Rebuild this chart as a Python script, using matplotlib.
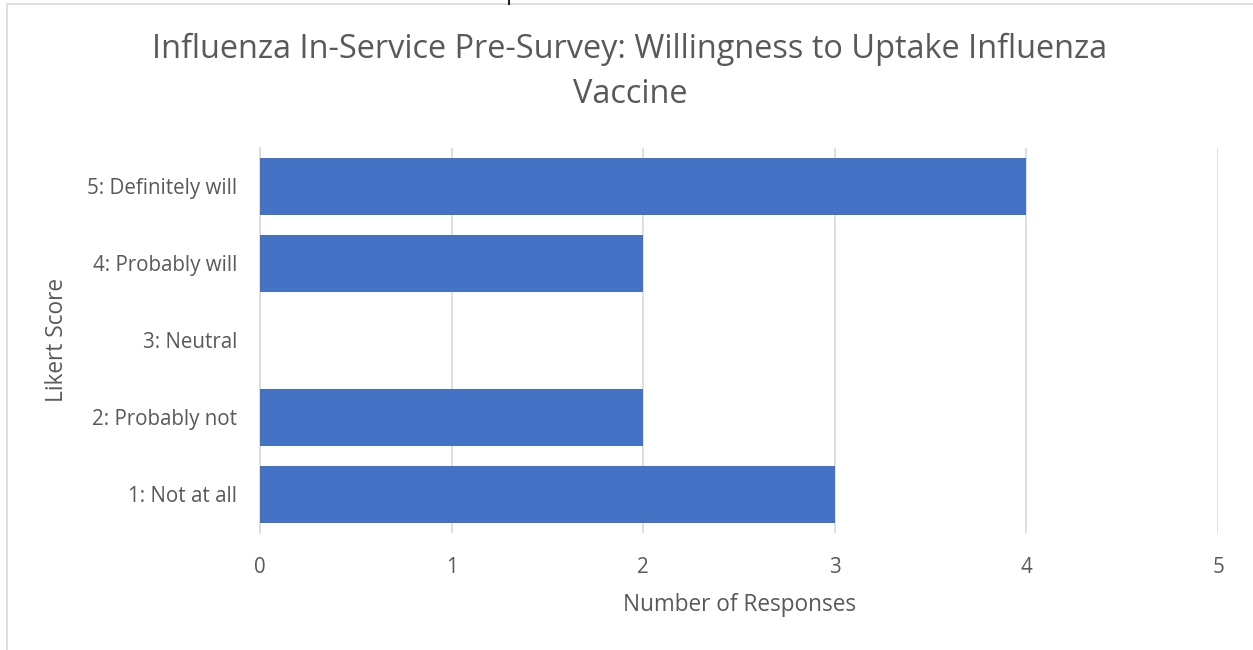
import numpy as np
import matplotlib.pyplot as plt
from matplotlib.patches import Rectangle
from matplotlib.lines import Line2D

# data
categories = ['1: Not at all', '2: Probably not', '3: Neutral', '4: Probably will', '5: Definitely will']
responses = [3, 2, 0, 2, 4]
x_ticks = [0, 1, 2, 3, 4, 5]

barColor = '#4472C4'
textGray = '#595959'
gridGray = '#D9D9D9'

plt.rcParams['font.family'] = ['Open Sans', 'DejaVu Sans']

W, H = 1253, 650
fig = plt.figure(figsize=(W/100, H/100), dpi=100)
ax = fig.add_axes([260/W, (H-533)/H, (1218-260)/W, (533-148)/H])

ypos = np.arange(len(categories))
ax.barh(ypos, responses, height=0.75, color=barColor, zorder=3)

ax.set_xlim(0, 5)
ax.set_ylim(-0.5, len(categories)-0.5)
ax.set_xticks(x_ticks)
ax.set_xticklabels([str(t) for t in x_ticks])
ax.set_yticks(ypos)
ax.set_yticklabels(categories)
ax.tick_params(axis='both', length=0, colors=textGray, labelsize=14.8)
ax.tick_params(axis='x', pad=17)
ax.tick_params(axis='y', pad=16.5)

ax.grid(axis='x', color=gridGray, linewidth=1.2, zorder=0)
for s in ['top', 'right', 'bottom']:
  ax.spines[s].set_visible(False)
ax.spines['left'].set_color(gridGray)
ax.spines['left'].set_linewidth(1.2)

# axis titles
fig.text(740/W, 1 - 605/H, 'Number of Responses', ha='center', va='center', color=textGray, fontsize=16.3)
fig.text(57/W, 1 - 340/H, 'Likert Score', ha='center', va='center', rotation=90, color=textGray, fontsize=16.3)

fig.text(630/W, 1 - 72/H, 'Influenza In-Service Pre-Survey: Willingness to Uptake Influenza\nVaccine',
         ha='center', va='center', fontsize=23.4, color=textGray, linespacing=1.5)

# chart frame
fig.patches.append(Rectangle((7/W, -0.1), 1.2, 1 - 4/H + 0.1, transform=fig.transFigure,
                             fill=False, edgecolor=gridGray, linewidth=1.2))
# little handle mark on the top edge
fig.lines.append(Line2D([509/W, 509/W], [1, 1 - 4/H], transform=fig.transFigure,
                        color='#222222', linewidth=1.5))

fig.savefig('out.png', dpi=100)
